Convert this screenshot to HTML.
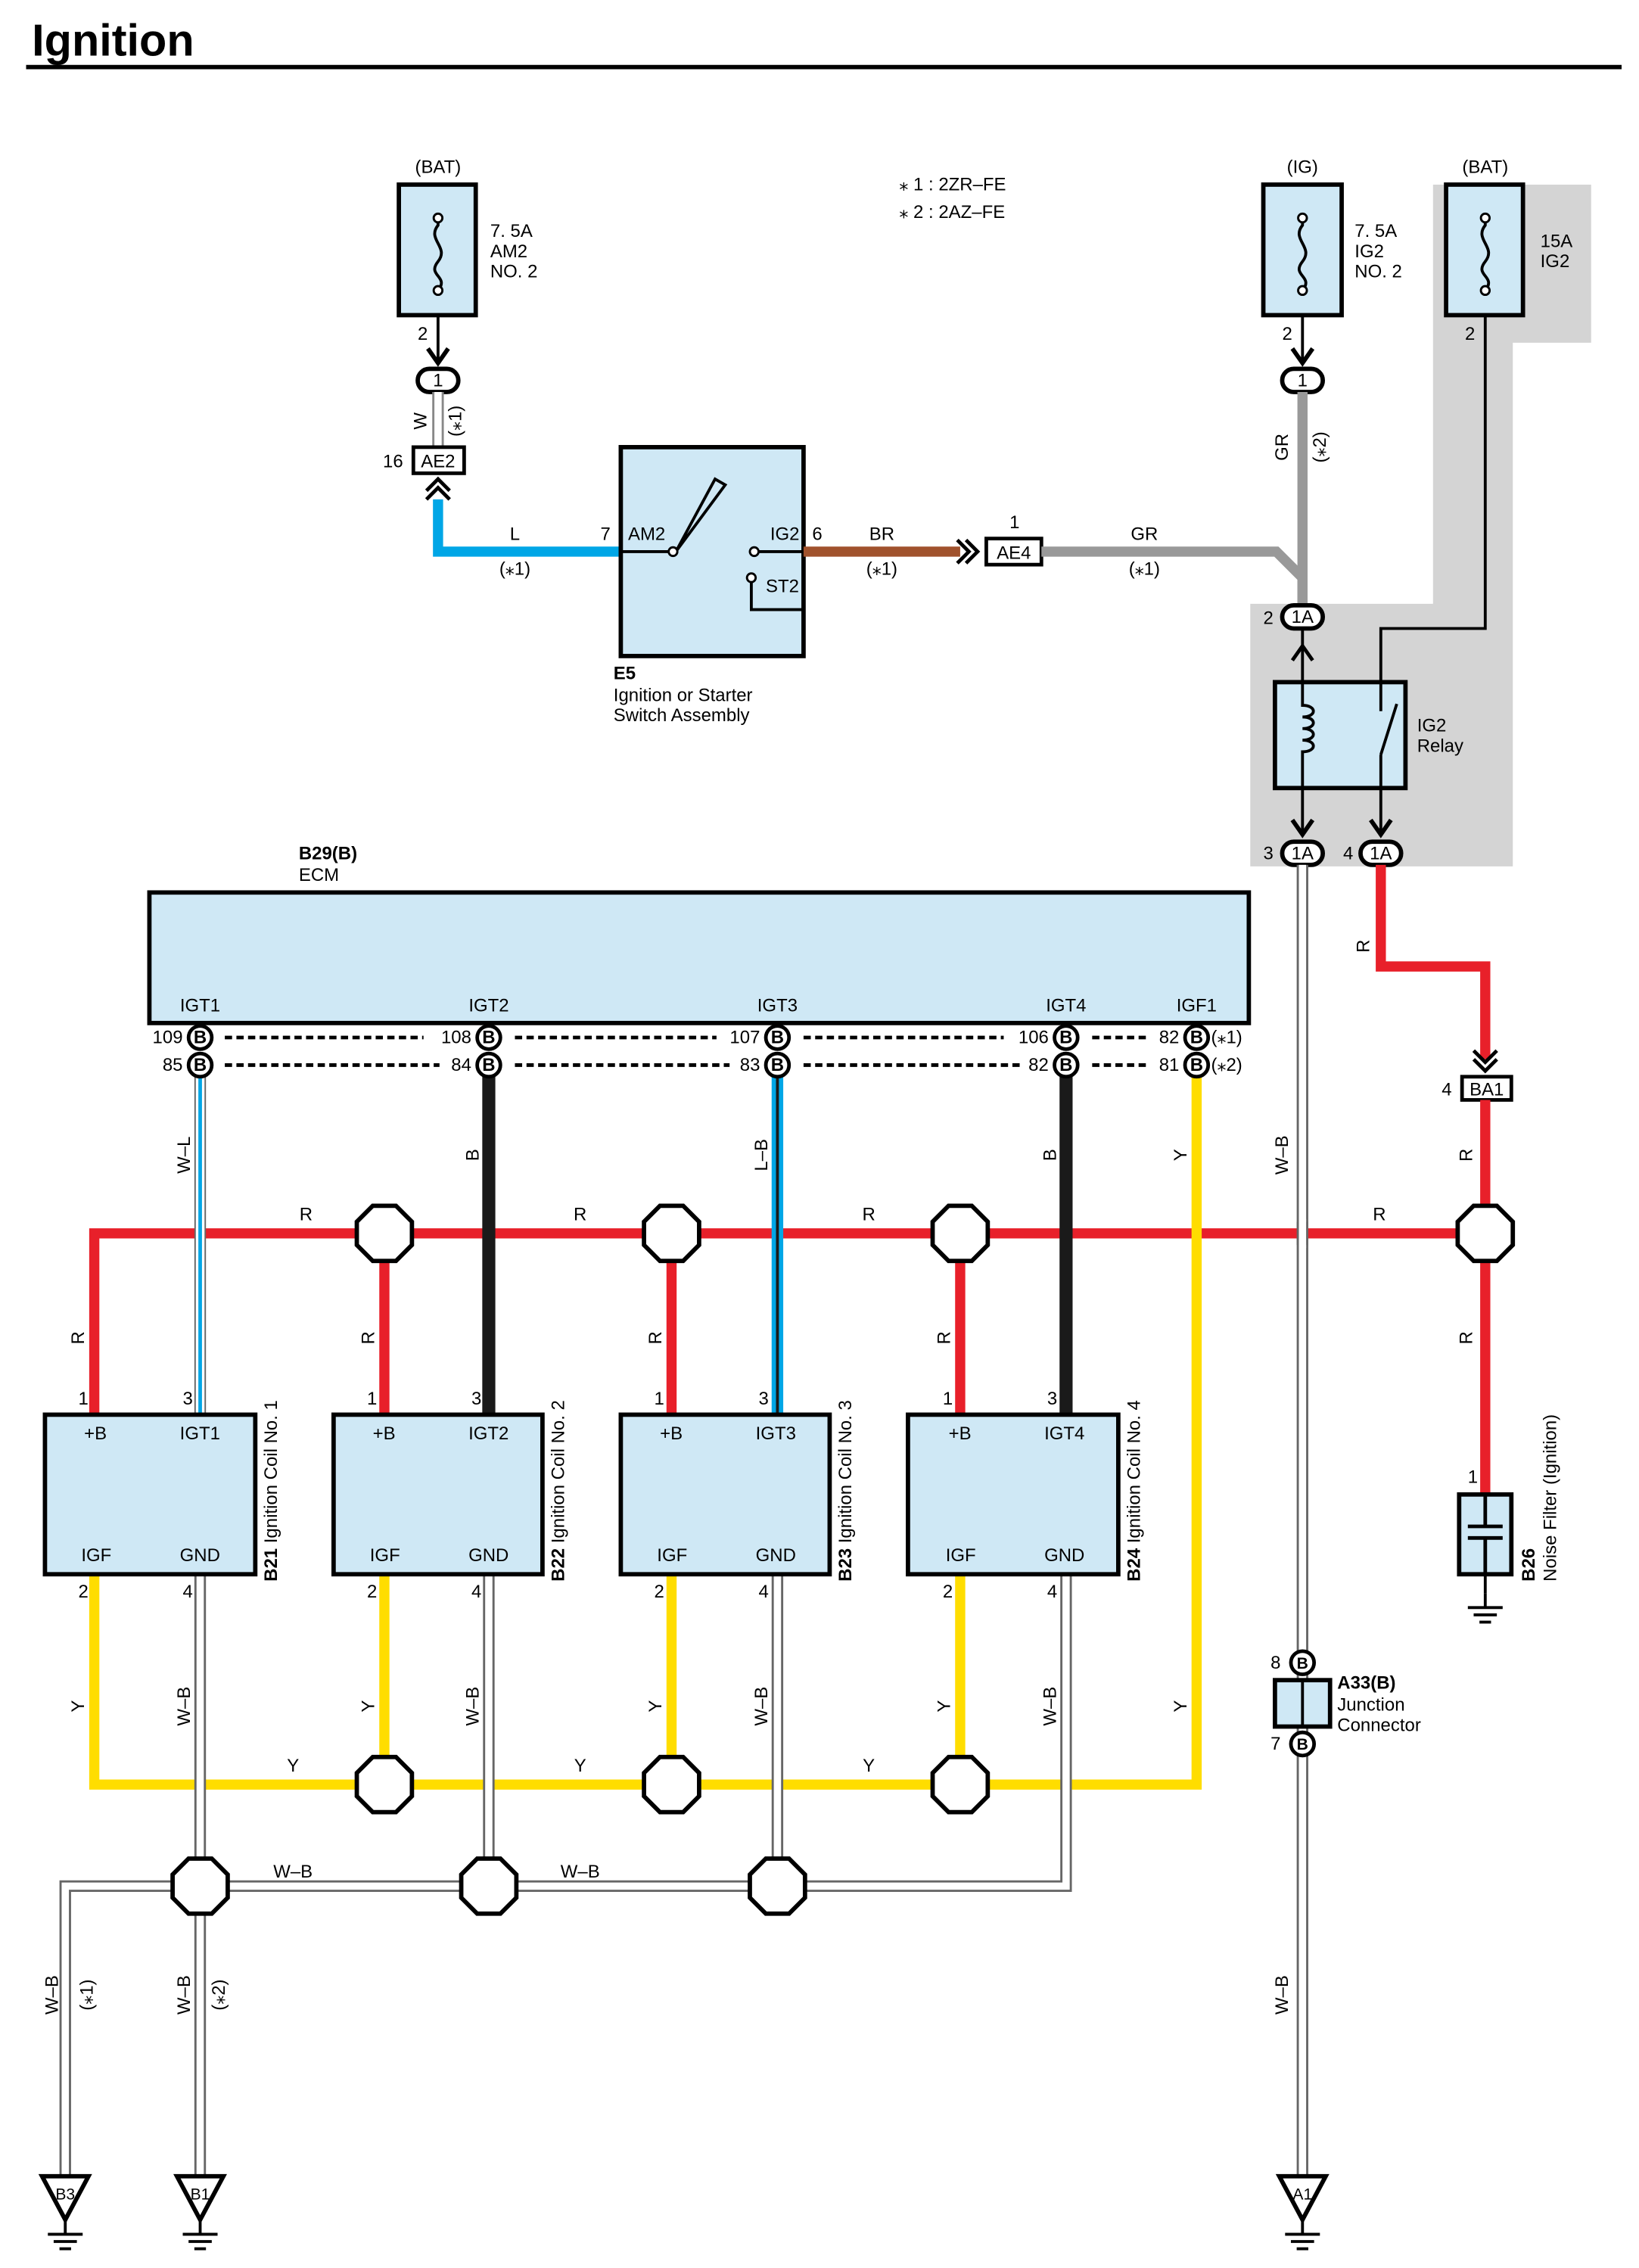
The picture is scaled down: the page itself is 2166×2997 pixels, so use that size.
<!DOCTYPE html>
<html><head><meta charset="utf-8"><style>
html,body{margin:0;padding:0;background:#fff}
svg{display:block}
text{font-family:"Liberation Sans",sans-serif;font-size:12.5px;fill:#000}
.b{font-weight:bold}
</style></head><body>
<svg width="2166" height="2997" viewBox="0 0 1130 1563" xmlns="http://www.w3.org/2000/svg">
<defs>
<polygon id="oct" points="-8,-19 8,-19 19,-8 19,8 8,19 -8,19 -19,8 -19,-8" fill="#fff" stroke="#000" stroke-width="3"/>
<g id="gnd"><line x1="0" y1="0" x2="0" y2="10" stroke="#000" stroke-width="2"/><line x1="-12" y1="10" x2="12" y2="10" stroke="#000" stroke-width="2"/><line x1="-8" y1="15" x2="8" y2="15" stroke="#000" stroke-width="2"/><line x1="-4" y1="20" x2="4" y2="20" stroke="#000" stroke-width="2"/></g>
</defs>
<text x="22" y="38" class="b" style="font-size:31px">Ignition</text>
<line x1="18" y1="46" x2="1118" y2="46" stroke="#000" stroke-width="3"/>

<polygon points="988,127 1097,127 1097,236 1043,236 1043,597 862,597 862,416 988,416" fill="#d4d4d4"/>

<text x="620" y="131">⁎ 1 : 2ZR–FE</text>
<text x="620" y="150">⁎ 2 : 2AZ–FE</text>

<g stroke="#000" stroke-width="3" fill="#cfe8f5">
<rect x="275" y="127" width="53" height="90"/>
<rect x="871" y="127" width="54" height="90"/>
<rect x="997" y="127" width="53" height="90"/>
</g>
<g fill="none" stroke="#000" stroke-width="2">
<path d="M302,150 v5 c-8,10 8,15 0,25 c-8,10 8,10 0,20"/>
<path d="M898,150 v5 c-8,10 8,15 0,25 c-8,10 8,10 0,20"/>
<path d="M1024,150 v5 c-8,10 8,15 0,25 c-8,10 8,10 0,20"/>
</g>
<g fill="#fff" stroke="#000" stroke-width="1.5"><circle cx="302" cy="150" r="3"/><circle cx="302" cy="200" r="3"/><circle cx="898" cy="150" r="3"/><circle cx="898" cy="200" r="3"/><circle cx="1024" cy="150" r="3"/><circle cx="1024" cy="200" r="3"/></g>
<text x="302" y="119" text-anchor="middle">(BAT)</text>
<text x="898" y="119" text-anchor="middle">(IG)</text>
<text x="1024" y="119" text-anchor="middle">(BAT)</text>
<text x="338" y="163">7. 5A</text><text x="338" y="177">AM2</text><text x="338" y="191">NO. 2</text>
<text x="934" y="163">7. 5A</text><text x="934" y="177">IG2</text><text x="934" y="191">NO. 2</text>
<text x="1062" y="170">15A</text><text x="1062" y="184">IG2</text>
<text x="288" y="234">2</text><text x="884" y="234">2</text><text x="1010" y="234">2</text>

<line x1="302" y1="217" x2="302" y2="248" stroke="#000" stroke-width="2"/>
<path d="M295,240 L302,250 L309,240" fill="none" stroke="#000" stroke-width="3"/>
<rect x="288" y="254" width="28" height="16" rx="8" fill="#fff" stroke="#000" stroke-width="3"/>
<text x="302" y="266" text-anchor="middle">1</text>
<line x1="302" y1="270" x2="302" y2="308" stroke="#888" stroke-width="8"/>
<line x1="302" y1="270" x2="302" y2="308" stroke="#fff" stroke-width="5"/>
<text transform="translate(294,290) rotate(-90)" text-anchor="middle">W</text>
<text transform="translate(318,290) rotate(-90)" text-anchor="middle">(⁎1)</text>
<rect x="285" y="308" width="35" height="18" fill="#fff" stroke="#000" stroke-width="2.5"/>
<text x="302" y="322" text-anchor="middle">AE2</text>
<text x="264" y="322">16</text>
<path d="M294,338 L302,330 L310,338 M294,344 L302,336 L310,344" fill="none" stroke="#000" stroke-width="2.5"/>
<path d="M302,344 V380 H428" fill="none" stroke="#00a6e6" stroke-width="7"/>
<text x="355" y="372" text-anchor="middle">L</text>
<text x="355" y="396" text-anchor="middle">(⁎1)</text>

<rect x="428" y="308" width="126" height="144" fill="#cfe8f5" stroke="#000" stroke-width="3"/>
<path d="M428,380 H462 M466,380 L493,330 L500,334 Z M522,380 H554 M518,398 V420 H554" fill="none" stroke="#000" stroke-width="2"/>
<circle cx="464" cy="380" r="3" fill="#fff" stroke="#000" stroke-width="1.5"/>
<circle cx="520" cy="380" r="3" fill="#fff" stroke="#000" stroke-width="1.5"/>
<circle cx="518" cy="398" r="3" fill="#fff" stroke="#000" stroke-width="1.5"/>
<text x="414" y="372">7</text><text x="433" y="372">AM2</text><text x="531" y="372">IG2</text><text x="560" y="372">6</text><text x="528" y="408">ST2</text>
<text x="423" y="468" class="b">E5</text><text x="423" y="483">Ignition or Starter</text><text x="423" y="497">Switch Assembly</text>
<line x1="554" y1="380" x2="662" y2="380" stroke="#a0522d" stroke-width="7"/>
<text x="608" y="372" text-anchor="middle">BR</text><text x="608" y="396" text-anchor="middle">(⁎1)</text>
<path d="M660,372 L668,380 L660,388 M666,372 L674,380 L666,388" fill="none" stroke="#000" stroke-width="2.5"/>
<rect x="680" y="371" width="38" height="18" fill="#fff" stroke="#000" stroke-width="2.5"/>
<text x="699" y="385" text-anchor="middle">AE4</text><text x="696" y="364">1</text>
<path d="M718,380 H880 L898,398 V418" fill="none" stroke="#999" stroke-width="7"/>
<text x="789" y="372" text-anchor="middle">GR</text><text x="789" y="396" text-anchor="middle">(⁎1)</text>

<line x1="898" y1="217" x2="898" y2="248" stroke="#000" stroke-width="2"/>
<path d="M891,240 L898,250 L905,240" fill="none" stroke="#000" stroke-width="3"/>
<rect x="884" y="254" width="28" height="16" rx="8" fill="#fff" stroke="#000" stroke-width="3"/>
<text x="898" y="266" text-anchor="middle">1</text>
<line x1="898" y1="270" x2="898" y2="418" stroke="#999" stroke-width="7"/>
<text transform="translate(888,308) rotate(-90)" text-anchor="middle">GR</text>
<text transform="translate(914,308) rotate(-90)" text-anchor="middle">(⁎2)</text>
<path d="M1024,217 V433 H952 V470" fill="none" stroke="#000" stroke-width="2"/>

<rect x="884" y="417" width="28" height="16" rx="8" fill="#fff" stroke="#000" stroke-width="3"/>
<text x="898" y="429" text-anchor="middle">1A</text><text x="871" y="430">2</text>
<rect x="879" y="470" width="90" height="73" fill="#cfe8f5" stroke="#000" stroke-width="3"/>
<path d="M898,433 V486 c10,0 10,8 0,8 c10,0 10,8 0,8 c10,0 10,8 0,8 c10,0 10,8 0,8 V575" fill="none" stroke="#000" stroke-width="2"/>
<path d="M891,455 L898,445 L905,455" fill="none" stroke="#000" stroke-width="2.5"/>
<path d="M952,470 V490 M952,520 L963,485 M952,520 V575" fill="none" stroke="#000" stroke-width="2"/>
<text x="977" y="504">IG2</text><text x="977" y="518">Relay</text>
<path d="M891,565 L898,575 L905,565 M945,565 L952,575 L959,565" fill="none" stroke="#000" stroke-width="3"/>
<rect x="884" y="580" width="28" height="16" rx="8" fill="#fff" stroke="#000" stroke-width="3"/>
<rect x="938" y="580" width="28" height="16" rx="8" fill="#fff" stroke="#000" stroke-width="3"/>
<text x="898" y="592" text-anchor="middle">1A</text><text x="952" y="592" text-anchor="middle">1A</text>
<text x="871" y="592">3</text><text x="926" y="592">4</text>

<path d="M952,596 V666 H1024 V730" fill="none" stroke="#e8202a" stroke-width="7"/>
<text transform="translate(944,652) rotate(-90)" text-anchor="middle">R</text>
<path d="M1016,724 L1024,732 L1032,724 M1016,730 L1024,738 L1032,730" fill="none" stroke="#000" stroke-width="2.5"/>
<rect x="1008" y="742" width="34" height="16" fill="#fff" stroke="#000" stroke-width="2.5"/>
<text x="1025" y="755" text-anchor="middle">BA1</text><text x="994" y="755">4</text>

<line x1="898" y1="596" x2="898" y2="1500" stroke="#666" stroke-width="8"/>
<line x1="898" y1="596" x2="898" y2="1500" stroke="#fff" stroke-width="5"/>

<path d="M65,975 V850 H1024 V1030" fill="none" stroke="#e8202a" stroke-width="7"/>
<line x1="1024" y1="758" x2="1024" y2="850" stroke="#e8202a" stroke-width="7"/>
<path d="M265,850 V975 M463,850 V975 M662,850 V975" stroke="#e8202a" stroke-width="7"/>
<line x1="898" y1="842" x2="898" y2="858" stroke="#666" stroke-width="8"/>
<line x1="898" y1="840" x2="898" y2="860" stroke="#fff" stroke-width="5"/>

<line x1="138" y1="742" x2="138" y2="975" stroke="#666" stroke-width="8"/>
<line x1="138" y1="742" x2="138" y2="975" stroke="#fff" stroke-width="6"/>
<line x1="138" y1="742" x2="138" y2="975" stroke="#00a6e6" stroke-width="2.5"/>
<line x1="337" y1="742" x2="337" y2="975" stroke="#1a1a1a" stroke-width="9"/>
<line x1="536" y1="742" x2="536" y2="975" stroke="#00a6e6" stroke-width="8"/>
<line x1="536" y1="742" x2="536" y2="975" stroke="#1a1a1a" stroke-width="2"/>
<line x1="735" y1="742" x2="735" y2="975" stroke="#1a1a1a" stroke-width="9"/>
<path d="M825,742 V1230 H65 V1085" fill="none" stroke="#ffdd00" stroke-width="7"/>
<path d="M265,1085 V1230 M463,1085 V1230 M662,1085 V1230" stroke="#ffdd00" stroke-width="7"/>

<g fill="none" stroke="#666" stroke-width="8">
<path d="M138,1085 V1500 M337,1085 V1300 M536,1085 V1300 M735,1085 V1300 H45 V1500"/>
</g>
<g fill="none" stroke="#fff" stroke-width="5">
<path d="M138,1085 V1500 M337,1085 V1300 M536,1085 V1300 M735,1085 V1300 H45 V1500"/>
</g>

<rect x="103" y="615" width="758" height="90" fill="#cfe8f5" stroke="#000" stroke-width="3"/>
<text x="206" y="592" class="b">B29(B)</text><text x="206" y="607">ECM</text>
<text x="138" y="697" text-anchor="middle">IGT1</text><text x="337" y="697" text-anchor="middle">IGT2</text><text x="536" y="697" text-anchor="middle">IGT3</text><text x="735" y="697" text-anchor="middle">IGT4</text><text x="825" y="697" text-anchor="middle">IGF1</text>
<g stroke="#000" stroke-width="2.5" stroke-dasharray="5,3">
<line x1="155" y1="715" x2="292" y2="715"/><line x1="355" y1="715" x2="494" y2="715"/><line x1="554" y1="715" x2="692" y2="715"/><line x1="753" y1="715" x2="790" y2="715"/>
<line x1="155" y1="734" x2="303" y2="734"/><line x1="355" y1="734" x2="503" y2="734"/><line x1="554" y1="734" x2="703" y2="734"/><line x1="753" y1="734" x2="790" y2="734"/>
</g>
<g fill="#fff" stroke="#000" stroke-width="2.5">
<circle cx="138" cy="715" r="8"/><circle cx="337" cy="715" r="8"/><circle cx="536" cy="715" r="8"/><circle cx="735" cy="715" r="8"/><circle cx="825" cy="715" r="8"/>
<circle cx="138" cy="734" r="8"/><circle cx="337" cy="734" r="8"/><circle cx="536" cy="734" r="8"/><circle cx="735" cy="734" r="8"/><circle cx="825" cy="734" r="8"/>
</g>
<g style="font-size:11px">
<text x="138" y="719" class="b" text-anchor="middle">B</text><text x="337" y="719" class="b" text-anchor="middle">B</text><text x="536" y="719" class="b" text-anchor="middle">B</text><text x="735" y="719" class="b" text-anchor="middle">B</text><text x="825" y="719" class="b" text-anchor="middle">B</text>
<text x="138" y="738" class="b" text-anchor="middle">B</text><text x="337" y="738" class="b" text-anchor="middle">B</text><text x="536" y="738" class="b" text-anchor="middle">B</text><text x="735" y="738" class="b" text-anchor="middle">B</text><text x="825" y="738" class="b" text-anchor="middle">B</text>
</g>
<g text-anchor="end">
<text x="126" y="719">109</text><text x="126" y="738">85</text>
<text x="325" y="719">108</text><text x="325" y="738">84</text>
<text x="524" y="719">107</text><text x="524" y="738">83</text>
<text x="723" y="719">106</text><text x="723" y="738">82</text>
<text x="813" y="719">82</text><text x="813" y="738">81</text>
</g>
<text x="835" y="719">(⁎1)</text><text x="835" y="738">(⁎2)</text>

<g text-anchor="middle">
<text transform="translate(131,796) rotate(-90)">W–L</text>
<text transform="translate(330,796) rotate(-90)">B</text>
<text transform="translate(529,796) rotate(-90)">L–B</text>
<text transform="translate(728,796) rotate(-90)">B</text>
<text transform="translate(818,796) rotate(-90)">Y</text>
<text transform="translate(888,796) rotate(-90)">W–B</text>
<text transform="translate(1015,796) rotate(-90)">R</text>
<text x="211" y="841">R</text><text x="400" y="841">R</text><text x="599" y="841">R</text><text x="951" y="841">R</text>
<text transform="translate(58,922) rotate(-90)">R</text>
<text transform="translate(258,922) rotate(-90)">R</text>
<text transform="translate(456,922) rotate(-90)">R</text>
<text transform="translate(655,922) rotate(-90)">R</text>
<text transform="translate(1015,922) rotate(-90)">R</text>
<text transform="translate(58,1176) rotate(-90)">Y</text>
<text transform="translate(258,1176) rotate(-90)">Y</text>
<text transform="translate(456,1176) rotate(-90)">Y</text>
<text transform="translate(655,1176) rotate(-90)">Y</text>
<text transform="translate(818,1176) rotate(-90)">Y</text>
<text transform="translate(131,1176) rotate(-90)">W–B</text>
<text transform="translate(330,1176) rotate(-90)">W–B</text>
<text transform="translate(529,1176) rotate(-90)">W–B</text>
<text transform="translate(728,1176) rotate(-90)">W–B</text>
<text x="202" y="1221">Y</text><text x="400" y="1221">Y</text><text x="599" y="1221">Y</text>
<text x="202" y="1294">W–B</text><text x="400" y="1294">W–B</text>
<text transform="translate(40,1375) rotate(-90)">W–B</text>
<text transform="translate(64,1375) rotate(-90)">(⁎1)</text>
<text transform="translate(131,1375) rotate(-90)">W–B</text>
<text transform="translate(155,1375) rotate(-90)">(⁎2)</text>
<text transform="translate(888,1375) rotate(-90)">W–B</text>
</g>

<g fill="#cfe8f5" stroke="#000" stroke-width="3">
<rect x="31" y="975" width="145" height="110"/><rect x="230" y="975" width="144" height="110"/><rect x="428" y="975" width="144" height="110"/><rect x="626" y="975" width="145" height="110"/>
</g>
<g>
<text x="58" y="992">+B</text><text x="124" y="992">IGT1</text><text x="56" y="1076">IGF</text><text x="124" y="1076">GND</text>
<text x="257" y="992">+B</text><text x="323" y="992">IGT2</text><text x="255" y="1076">IGF</text><text x="323" y="1076">GND</text>
<text x="455" y="992">+B</text><text x="521" y="992">IGT3</text><text x="453" y="1076">IGF</text><text x="521" y="1076">GND</text>
<text x="654" y="992">+B</text><text x="720" y="992">IGT4</text><text x="652" y="1076">IGF</text><text x="720" y="1076">GND</text>
<text x="54" y="968">1</text><text x="126" y="968">3</text><text x="54" y="1101">2</text><text x="126" y="1101">4</text>
<text x="253" y="968">1</text><text x="325" y="968">3</text><text x="253" y="1101">2</text><text x="325" y="1101">4</text>
<text x="451" y="968">1</text><text x="523" y="968">3</text><text x="451" y="1101">2</text><text x="523" y="1101">4</text>
<text x="650" y="968">1</text><text x="722" y="968">3</text><text x="650" y="1101">2</text><text x="722" y="1101">4</text>
</g>
<text transform="translate(191,1090) rotate(-90)"><tspan class="b">B21</tspan> Ignition Coil No. 1</text>
<text transform="translate(389,1090) rotate(-90)"><tspan class="b">B22</tspan> Ignition Coil No. 2</text>
<text transform="translate(587,1090) rotate(-90)"><tspan class="b">B23</tspan> Ignition Coil No. 3</text>
<text transform="translate(786,1090) rotate(-90)"><tspan class="b">B24</tspan> Ignition Coil No. 4</text>

<use href="#oct" x="265" y="850"/><use href="#oct" x="463" y="850"/><use href="#oct" x="662" y="850"/><use href="#oct" x="1024" y="850"/>
<use href="#oct" x="265" y="1230"/><use href="#oct" x="463" y="1230"/><use href="#oct" x="662" y="1230"/>
<use href="#oct" x="138" y="1300"/><use href="#oct" x="337" y="1300"/><use href="#oct" x="536" y="1300"/>

<rect x="1006" y="1030" width="36" height="55" fill="#cfe8f5" stroke="#000" stroke-width="3"/>
<path d="M1024,1030 V1052 M1012,1052 H1036 M1012,1060 H1036 M1024,1060 V1085" stroke="#000" stroke-width="2.5"/>
<line x1="1024" y1="1085" x2="1024" y2="1098" stroke="#000" stroke-width="2"/>
<use href="#gnd" x="1024" y="1098"/>
<text x="1012" y="1022">1</text>
<text transform="translate(1058,1090) rotate(-90)"><tspan class="b">B26</tspan></text>
<text transform="translate(1073,1090) rotate(-90)">Noise Filter (Ignition)</text>

<circle cx="898" cy="1146" r="8" fill="#fff" stroke="#000" stroke-width="2.5"/>
<text x="898" y="1150" text-anchor="middle" class="b" style="font-size:11px">B</text>
<rect x="879" y="1158" width="38" height="32" fill="#cfe8f5" stroke="#000" stroke-width="3"/>
<line x1="898" y1="1158" x2="898" y2="1190" stroke="#000" stroke-width="2"/>
<circle cx="898" cy="1202" r="8" fill="#fff" stroke="#000" stroke-width="2.5"/>
<text x="898" y="1206" text-anchor="middle" class="b" style="font-size:11px">B</text>
<text x="876" y="1150">8</text><text x="876" y="1206">7</text>
<text x="922" y="1164" class="b">A33(B)</text><text x="922" y="1179">Junction</text><text x="922" y="1193">Connector</text>

<g fill="#fff" stroke="#000" stroke-width="3">
<polygon points="29,1500 61,1500 45,1530"/><polygon points="122,1500 154,1500 138,1530"/><polygon points="882,1500 914,1500 898,1530"/>
</g>
<text x="45" y="1516" text-anchor="middle" style="font-size:11px">B3</text>
<text x="138" y="1516" text-anchor="middle" style="font-size:11px">B1</text>
<text x="898" y="1516" text-anchor="middle" style="font-size:11px">A1</text>
<use href="#gnd" x="45" y="1530"/><use href="#gnd" x="138" y="1530"/><use href="#gnd" x="898" y="1530"/>
</svg>
</body></html>
